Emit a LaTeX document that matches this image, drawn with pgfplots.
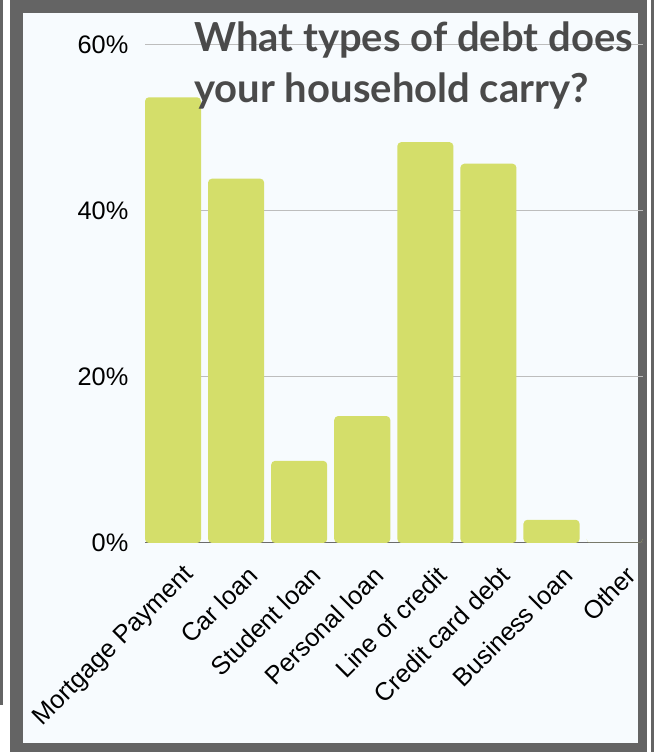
\documentclass[border=0pt]{standalone}
\usepackage{pgfplots}
\pgfplotsset{compat=1.18}
\usepackage{fontspec}
\setmainfont{Liberation Sans}
\newfontfamily\titlefont{Lato}
\definecolor{framec}{HTML}{646464}
\definecolor{bgc}{HTML}{F7FBFE}
\definecolor{barc}{HTML}{D4DE6A}
\definecolor{titlec}{HTML}{4A4A4A}
\definecolor{gridc}{HTML}{BDBDBD}
\definecolor{axisc}{HTML}{6B6B6B}

\begin{document}
\begin{tikzpicture}[x=1pt,y=1pt]
\useasboundingbox (0,0) rectangle (490.5,564);
% frame
\fill[framec] (0,0) rectangle (490.5,564);
\fill[white] (2.25,35.25) rectangle (7.5,564);
\fill[white] (0,0) rectangle (7.5,35.25);
\fill[white] (485.25,0) rectangle (488.25,564);
\fill[bgc] (17.25,6.75) rectangle (478.5,554.25);

\begin{axis}[
    at={(108.75pt,156.75pt)}, anchor=south west,
    scale only axis,
    width=373.5pt, height=373.5pt,
    ybar, bar width=0.889,
    xmin=-0.444, xmax=7.45,
    ymin=0, ymax=60,
    enlargelimits=false,
    axis x line=bottom, axis y line=left,
    axis line style={-},
    x axis line style={axisc, line width=0.75pt},
    y axis line style={draw=none},
    major tick length=0pt,
    ymajorgrids,
    grid style={gridc, line width=0.75pt},
    ytick={0,20,40,60},
    yticklabel={\pgfmathprintnumber{\tick}\%},
    /pgf/number format/assume math mode=true,
    xtick={0,...,7},
    xticklabels={Mortgage Payment, Car loan, Student loan, Personal loan,
                 Line of credit, Credit card debt, Business loan, Other},
    tick label style={font=\fontsize{19}{19}\selectfont, text=black},
    yticklabel style={xshift=-9pt},
    xticklabel style={rotate=45, anchor=east, xshift=-2.3pt, yshift=-23.7pt},
]
\addplot[fill=barc, draw=none, rounded corners=3pt] coordinates {
    (0,53.7) (1,43.9) (2,9.9) (3,15.3) (4,48.3) (5,45.7) (6,2.8) (7,0)
};
\end{axis}

\node[anchor=base west, text=titlec, inner sep=0,
      font=\titlefont\bfseries\fontsize{30}{30}\selectfont] at (145.5,525) {What types of debt does};
\node[anchor=base west, text=titlec, inner sep=0,
      font=\titlefont\bfseries\fontsize{30}{30}\selectfont] at (145.5,486.75) {your household carry?};
\end{tikzpicture}
\end{document}
